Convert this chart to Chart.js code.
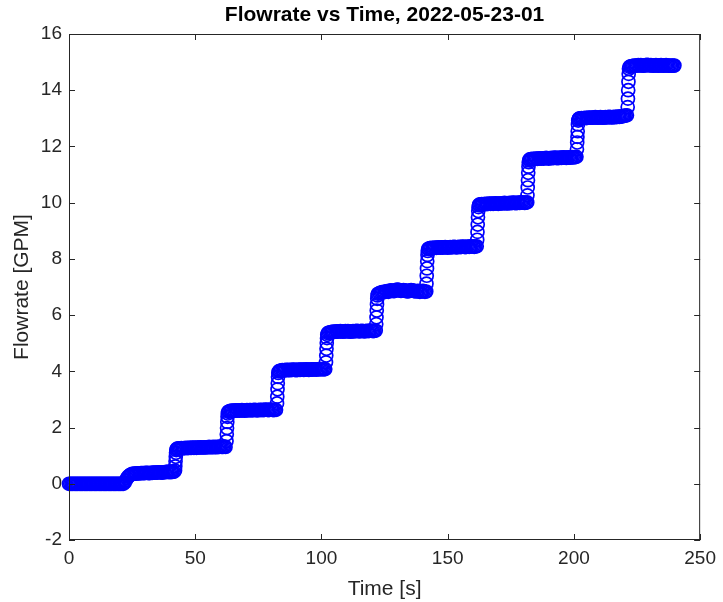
<!DOCTYPE html>
<html>
<head>
<meta charset="utf-8">
<title>Flowrate vs Time</title>
<script src="https://cdn.jsdelivr.net/npm/chart.js@4/dist/chart.umd.min.js"></script>
<style>
    html, body { margin: 0; padding: 0; background: #ffffff; }
    #wrap { width: 723px; height: 602px; }
</style>
</head>
<body>
<div id="wrap"><canvas id="flowChart" width="723" height="602"></canvas></div>
<script>
// time stamps [s], one line per plateau / step
const timeS = [
    0, 0.5, 1, 1.5, 2, 2.5, 3, 3.5, 4, 4.5, 5, 5.5, 6, 6.5, 7, 7.5, 8, 8.5, 9, 9.5, 10, 10.5,
    11, 11.5, 12, 12.5, 13, 13.5, 14, 14.5, 15, 15.5, 16, 16.5, 17, 17.5, 18, 18.5, 19, 19.5, 20, 20.5, 21, 21.5,
    22, 22.5, 23, 23.5, 24, 24.5, 25, 25.5,
    26, 26.5, 27, 27.5, 28, 28.5, 29, 29.5, 30, 30.5, 31, 31.5, 32, 32.5, 33, 33.5,
    34, 34.5, 35, 35.5, 36, 36.5, 37, 37.5, 38, 38.5, 39, 39.5, 40, 40.5, 41, 41.5,
    42, 42.1, 42.2, 42.3, 42.4, 42.5, 42.7,
    43, 43.5, 44, 44.5, 45, 45.5, 46, 46.5, 47, 47.5, 48, 48.5, 49, 49.5, 50, 50.5, 51, 51.5, 52, 52.5,
    53, 53.5, 54, 54.5, 55, 55.5, 56, 56.5, 57, 57.5, 58, 58.5, 59, 59.5, 60, 60.5, 61, 61.5, 62,
    62.4, 62.5, 62.6, 62.7, 62.8, 62.9, 63.1,
    63.5, 64, 64.5, 65, 65.5, 66, 66.5, 67, 67.5, 68, 68.5, 69, 69.5, 70, 70.5, 71, 71.5, 72, 72.5,
    73, 73.5, 74, 74.5, 75, 75.5, 76, 76.5, 77, 77.5, 78, 78.5, 79, 79.5, 80, 80.5, 81, 81.5, 82,
    82.4, 82.5, 82.6, 82.7, 82.8, 82.9, 83.1,
    83.5, 84, 84.5, 85, 85.5, 86, 86.5, 87, 87.5, 88, 88.5, 89, 89.5, 90, 90.5, 91, 91.5, 92, 92.5,
    93, 93.5, 94, 94.5, 95, 95.5, 96, 96.5, 97, 97.5, 98, 98.5, 99, 99.5, 100, 100.5, 101, 101.5,
    101.8, 101.9, 102, 102.1, 102.2, 102.3, 102.5,
    103, 103.5, 104, 104.5, 105, 105.5, 106, 106.5, 107, 107.5, 108, 108.5, 109, 109.5, 110, 110.5, 111, 111.5, 112,
    112.5, 113, 113.5, 114, 114.5, 115, 115.5, 116, 116.5, 117, 117.5, 118, 118.5, 119, 119.5, 120, 120.5, 121, 121.5,
    121.7, 121.8, 121.9, 122, 122.1, 122.2, 122.4,
    123, 123.5, 124, 124.5, 125, 125.5, 126, 126.5, 127, 127.5, 128, 128.5, 129, 129.5, 130, 130.5, 131, 131.5, 132,
    132.5, 133, 133.5, 134, 134.5, 135, 135.5, 136, 136.5, 137, 137.5, 138, 138.5, 139, 139.5, 140, 140.5, 141, 141.5,
    141.6, 141.7, 141.8, 141.9, 142, 142.1, 142.3,
    142.5, 143, 143.5, 144, 144.5, 145, 145.5, 146, 146.5, 147, 147.5, 148, 148.5, 149, 149.5, 150, 150.5, 151, 151.5, 152,
    152.5, 153, 153.5, 154, 154.5, 155, 155.5, 156, 156.5, 157, 157.5, 158, 158.5, 159, 159.5, 160, 160.5, 161, 161.5,
    161.7, 161.8, 161.9, 162, 162.1, 162.2, 162.4,
    162.5, 163, 163.5, 164, 164.5, 165, 165.5, 166, 166.5, 167, 167.5, 168, 168.5, 169, 169.5, 170, 170.5, 171, 171.5, 172,
    172.5, 173, 173.5, 174, 174.5, 175, 175.5, 176, 176.5, 177, 177.5, 178, 178.5, 179, 179.5, 180, 180.5, 181, 181.5,
    181.6, 181.7, 181.8, 181.9, 182, 182.1, 182.3,
    182.5, 183, 183.5, 184, 184.5, 185, 185.5, 186, 186.5, 187, 187.5, 188, 188.5, 189, 189.5, 190, 190.5, 191, 191.5,
    192, 192.5, 193, 193.5, 194, 194.5, 195, 195.5, 196, 196.5, 197, 197.5, 198, 198.5, 199, 199.5, 200, 200.5, 201,
    201.2, 201.3, 201.4, 201.5, 201.6, 201.7, 201.9,
    202, 202.5, 203, 203.5, 204, 204.5, 205, 205.5, 206, 206.5, 207, 207.5, 208, 208.5, 209, 209.5, 210, 210.5, 211, 211.5,
    212, 212.5, 213, 213.5, 214, 214.5, 215, 215.5, 216, 216.5, 217, 217.5, 218, 218.5, 219, 219.5, 220, 220.5, 221,
    221.3, 221.4, 221.5, 221.6, 221.7, 221.8, 222,
    222.5, 223, 223.5, 224, 224.5, 225, 225.5, 226, 226.5, 227, 227.5, 228, 228.5, 229, 229.5, 230, 230.5, 231,
    231.5, 232, 232.5, 233, 233.5, 234, 234.5, 235, 235.5, 236, 236.5, 237, 237.5, 238, 238.5, 239, 239.5, 239.8
];

// flowrate [GPM], same layout as timeS
const flowGpm = [
    0, 0, 0, 0, 0, 0, 0, 0, 0, 0, 0, 0, 0, 0, 0, 0, 0, 0, 0, 0, 0, 0,
    0, 0, 0, 0, 0, 0, 0, 0, 0, 0, 0, 0, 0, 0, 0, 0, 0, 0, 0, 0, 0, 0,
    0.04, 0.12, 0.20, 0.26, 0.30, 0.33, 0.35, 0.35,
    0.36, 0.36, 0.37, 0.37, 0.37, 0.38, 0.38, 0.38, 0.38, 0.39, 0.39, 0.38, 0.38, 0.39, 0.39, 0.40,
    0.40, 0.40, 0.40, 0.41, 0.41, 0.40, 0.40, 0.41, 0.41, 0.42, 0.42, 0.42, 0.41, 0.42, 0.42, 0.43,
    0.47, 0.62, 0.80, 0.96, 1.10, 1.20, 1.24,
    1.25, 1.26, 1.26, 1.27, 1.26, 1.27, 1.27, 1.28, 1.27, 1.28, 1.28, 1.28, 1.29, 1.28, 1.29, 1.28, 1.29, 1.29, 1.30, 1.29,
    1.29, 1.30, 1.29, 1.30, 1.30, 1.31, 1.30, 1.30, 1.31, 1.30, 1.31, 1.30, 1.31, 1.31, 1.32, 1.31, 1.31, 1.32, 1.31,
    1.52, 1.76, 1.98, 2.20, 2.38, 2.50, 2.56,
    2.58, 2.59, 2.60, 2.59, 2.60, 2.61, 2.60, 2.61, 2.60, 2.61, 2.62, 2.61, 2.60, 2.61, 2.62, 2.61, 2.62, 2.62, 2.61,
    2.62, 2.63, 2.62, 2.61, 2.62, 2.63, 2.62, 2.63, 2.62, 2.63, 2.64, 2.63, 2.62, 2.63, 2.64, 2.63, 2.62, 2.63, 2.63,
    2.86, 3.10, 3.36, 3.58, 3.80, 3.94, 4.00,
    4.02, 4.03, 4.04, 4.03, 4.04, 4.05, 4.04, 4.05, 4.04, 4.05, 4.05, 4.06, 4.05, 4.04, 4.05, 4.06, 4.05, 4.06, 4.06,
    4.05, 4.06, 4.07, 4.06, 4.05, 4.06, 4.07, 4.06, 4.07, 4.07, 4.06, 4.07, 4.08, 4.07, 4.08, 4.08, 4.07, 4.08,
    4.32, 4.56, 4.80, 5.01, 5.18, 5.30, 5.36,
    5.38, 5.39, 5.40, 5.41, 5.40, 5.41, 5.42, 5.41, 5.42, 5.43, 5.42, 5.41, 5.42, 5.43, 5.42, 5.43, 5.42, 5.41, 5.42,
    5.43, 5.42, 5.43, 5.44, 5.43, 5.42, 5.43, 5.44, 5.43, 5.42, 5.43, 5.44, 5.43, 5.44, 5.45, 5.44, 5.43, 5.44, 5.45,
    5.68, 5.92, 6.16, 6.38, 6.58, 6.70, 6.76,
    6.78, 6.80, 6.81, 6.83, 6.82, 6.84, 6.85, 6.83, 6.86, 6.88, 6.87, 6.85, 6.86, 6.89, 6.91, 6.90, 6.88, 6.86, 6.87,
    6.89, 6.88, 6.86, 6.84, 6.85, 6.87, 6.89, 6.88, 6.86, 6.85, 6.84, 6.86, 6.85, 6.83, 6.84, 6.86, 6.85, 6.83, 6.84,
    7.12, 7.40, 7.66, 7.92, 8.14, 8.28, 8.35,
    8.37, 8.38, 8.39, 8.38, 8.39, 8.40, 8.39, 8.40, 8.41, 8.40, 8.41, 8.40, 8.41, 8.42, 8.41, 8.40, 8.41, 8.42, 8.41, 8.42,
    8.43, 8.42, 8.41, 8.42, 8.43, 8.42, 8.43, 8.44, 8.43, 8.42, 8.43, 8.44, 8.43, 8.44, 8.45, 8.44, 8.43, 8.44, 8.45,
    8.68, 8.96, 9.22, 9.48, 9.70, 9.84, 9.91,
    9.93, 9.94, 9.95, 9.94, 9.95, 9.96, 9.95, 9.96, 9.97, 9.96, 9.97, 9.96, 9.97, 9.98, 9.97, 9.96, 9.97, 9.98, 9.97, 9.98,
    9.99, 9.98, 9.97, 9.98, 9.99, 9.98, 9.99, 10.00, 9.99, 9.98, 9.99, 10.00, 9.99, 10.00, 10.01, 10.00, 9.99, 10.00, 10.01,
    10.26, 10.54, 10.80, 11.06, 11.28, 11.44, 11.51,
    11.54, 11.55, 11.56, 11.55, 11.56, 11.57, 11.56, 11.57, 11.58, 11.57, 11.58, 11.57, 11.58, 11.59, 11.58, 11.57, 11.58, 11.59, 11.58,
    11.59, 11.60, 11.59, 11.58, 11.59, 11.60, 11.59, 11.60, 11.61, 11.60, 11.59, 11.60, 11.61, 11.60, 11.61, 11.62, 11.61, 11.62, 11.63,
    11.90, 12.14, 12.34, 12.54, 12.78, 12.92, 12.97,
    12.99, 13.00, 13.01, 13.00, 13.01, 13.02, 13.01, 13.02, 13.03, 13.02, 13.03, 13.02, 13.03, 13.04, 13.03, 13.02, 13.03, 13.04, 13.03, 13.02,
    13.03, 13.04, 13.03, 13.04, 13.05, 13.04, 13.03, 13.04, 13.05, 13.04, 13.05, 13.06, 13.05, 13.06, 13.07, 13.08, 13.09, 13.10, 13.11,
    13.40, 13.70, 14.00, 14.30, 14.58, 14.76, 14.83,
    14.85, 14.86, 14.87, 14.88, 14.87, 14.88, 14.89, 14.88, 14.89, 14.88, 14.87, 14.88, 14.89, 14.90, 14.89, 14.88, 14.89, 14.88,
    14.87, 14.88, 14.89, 14.88, 14.87, 14.88, 14.89, 14.88, 14.87, 14.88, 14.89, 14.88, 14.87, 14.88, 14.87, 14.88, 14.87, 14.88
];

const xTicks = [0, 50, 100, 150, 200, 250];
const yTicks = [-2, 0, 2, 4, 6, 8, 10, 12, 14, 16];

const chartTitle = 'Flowrate vs Time, 2022-05-23-01';
const axisColor = '#262626';
const fontFamily = '"Liberation Sans", Arial, Helvetica, sans-serif';

Chart.defaults.font.family = fontFamily;

if (timeS.length !== flowGpm.length) {
    console.warn('timeS / flowGpm length mismatch:', timeS.length, flowGpm.length);
}

// MATLAB-like box: frame, inward ticks on all four sides, title over the axes
const matlabBox = {
    id: 'matlabBox',
    afterDraw(chart) {
        const ctx = chart.ctx;
        const a = chart.chartArea;
        const xs = chart.scales.x;
        const ys = chart.scales.y;
        const tickLen = 6;

        ctx.save();
        ctx.strokeStyle = axisColor;
        ctx.lineWidth = 1;
        ctx.strokeRect(a.left + 0.5, a.top + 0.5, a.right - a.left - 1, a.bottom - a.top - 1);

        ctx.beginPath();
        xTicks.forEach(v => {
            const px = Math.round(xs.getPixelForValue(v)) + 0.5;
            ctx.moveTo(px, a.bottom);
            ctx.lineTo(px, a.bottom - tickLen);
            ctx.moveTo(px, a.top);
            ctx.lineTo(px, a.top + tickLen);
        });
        yTicks.forEach(v => {
            const py = Math.round(ys.getPixelForValue(v)) + 0.5;
            ctx.moveTo(a.left, py);
            ctx.lineTo(a.left + tickLen, py);
            ctx.moveTo(a.right, py);
            ctx.lineTo(a.right - tickLen, py);
        });
        ctx.stroke();

        ctx.fillStyle = '#000000';
        ctx.font = 'bold 21px ' + fontFamily;
        ctx.textAlign = 'center';
        ctx.textBaseline = 'middle';
        ctx.fillText(chartTitle, (a.left + a.right) / 2, 15);
        ctx.restore();
    }
};

const n = Math.min(timeS.length, flowGpm.length);
const points = timeS.slice(0, n).map((t, i) => ({ x: t, y: flowGpm[i] }));

new Chart(document.getElementById('flowChart'), {
    type: 'scatter',
    data: {
        datasets: [{
            label: 'Flowrate',
            data: points,
            clip: false,
            pointStyle: 'circle',
            pointRadius: 6.5,
            pointHoverRadius: 6.5,
            borderWidth: 1.7,
            borderColor: '#0000ff',
            backgroundColor: 'rgba(0, 0, 0, 0)'
        }]
    },
    options: {
        responsive: false,
        animation: false,
        devicePixelRatio: 1,
        events: [],
        layout: {
            padding: { left: 0, right: 15, top: 34, bottom: 0 }
        },
        plugins: {
            legend: { display: false },
            title: { display: false },
            tooltip: { enabled: false }
        },
        scales: {
            x: {
                type: 'linear',
                min: 0,
                max: 250,
                afterFit: function(scale) { scale.height = 62; },
                afterBuildTicks: function(scale) {
                    scale.ticks = xTicks.map(v => ({ value: v }));
                },
                ticks: {
                    color: axisColor,
                    font: { size: 19 },
                    padding: 7,
                    maxRotation: 0
                },
                grid: { display: false, drawTicks: false },
                border: { display: false },
                title: {
                    display: true,
                    text: 'Time [s]',
                    color: axisColor,
                    font: { size: 21 },
                    padding: { top: 0, bottom: 0 }
                }
            },
            y: {
                type: 'linear',
                min: -2,
                max: 16,
                afterFit: function(scale) { scale.width = 69; },
                afterBuildTicks: function(scale) {
                    scale.ticks = yTicks.map(v => ({ value: v }));
                },
                ticks: {
                    color: axisColor,
                    font: { size: 19 },
                    padding: 7
                },
                grid: { display: false, drawTicks: false },
                border: { display: false },
                title: {
                    display: true,
                    text: 'Flowrate [GPM]',
                    color: axisColor,
                    font: { size: 21 },
                    padding: { top: 10, bottom: 0 }
                }
            }
        }
    },
    plugins: [matlabBox]
});
</script>
</body>
</html>
